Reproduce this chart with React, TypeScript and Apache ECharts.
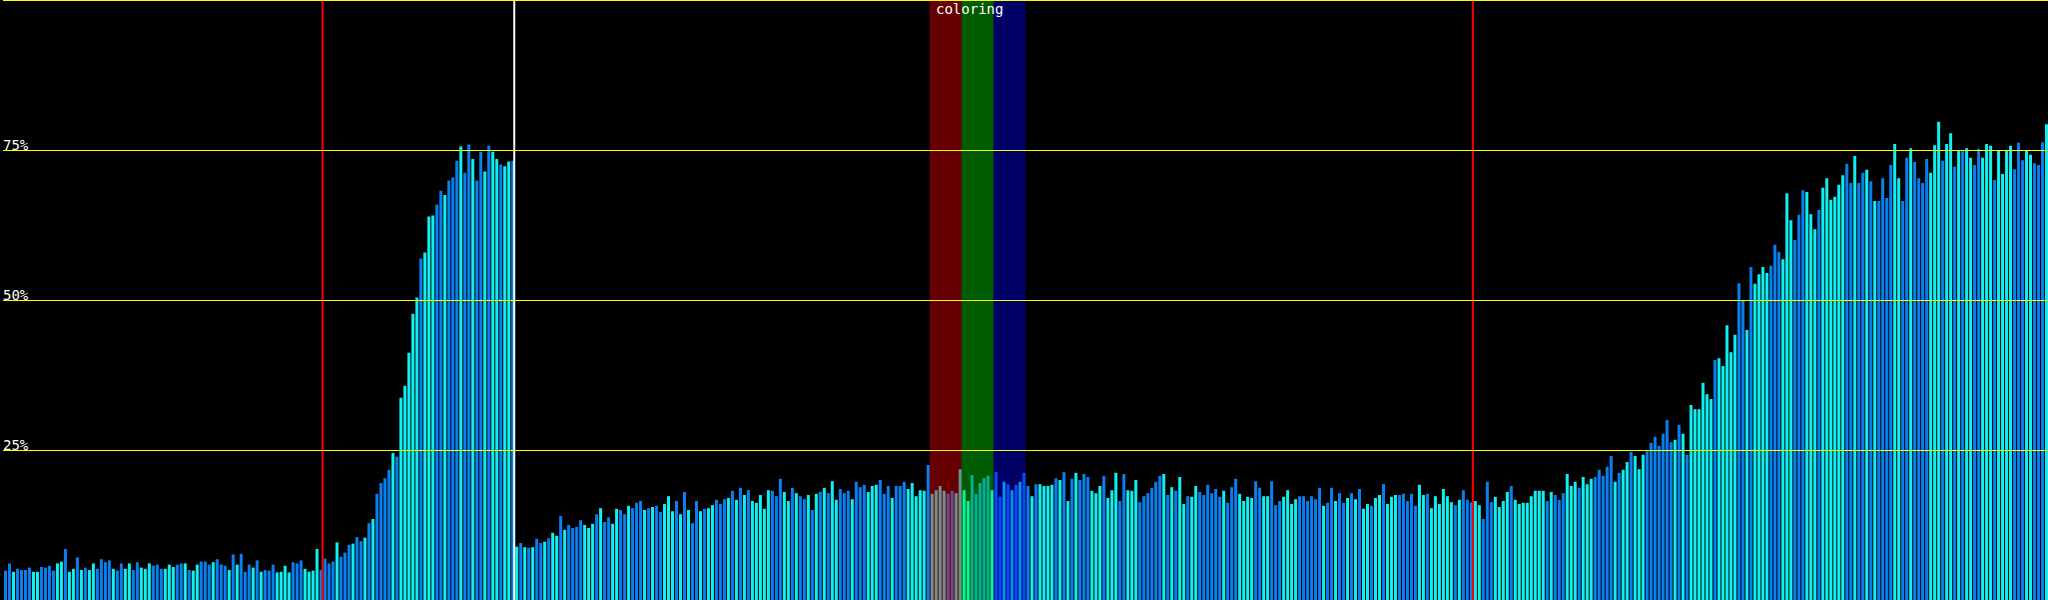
import React, { useEffect, useRef } from "react";
import * as echarts from "echarts";

// bar heights (percent), one per sample, in four runs of 128 samples
const valuesA = [
  4.9, 6.1, 4.7, 5.2, 5.0, 5.0, 5.4, 4.7, 4.7, 5.5,
  5.4, 5.7, 4.9, 6.1, 6.4, 8.5, 4.7, 5.2, 7.1, 5.0,
  5.4, 5.0, 6.1, 5.2, 6.8, 6.3, 6.6, 5.2, 4.9, 6.1,
  5.2, 6.1, 5.0, 6.3, 5.4, 5.2, 6.1, 5.7, 5.9, 5.2,
  5.2, 5.9, 5.5, 5.9, 6.1, 6.1, 5.0, 4.9, 5.9, 6.4,
  6.4, 5.9, 6.3, 6.8, 5.9, 5.7, 5.0, 7.6, 5.9, 7.7,
  4.7, 5.9, 5.4, 6.6, 4.7, 5.0, 4.9, 5.9, 4.6, 4.7,
  5.7, 4.6, 6.3, 6.1, 6.6, 5.2, 4.7, 4.9, 8.5, 5.0,
  6.9, 6.1, 6.4, 9.6, 7.2, 7.9, 9.2, 9.4, 10.5, 9.8,
  10.4, 12.8, 13.5, 17.7, 19.5, 20.3, 21.7, 24.5, 23.9, 33.7,
  35.7, 41.2, 47.7, 50.4, 56.9, 57.9, 63.9, 64.1, 65.9, 68.2,
  67.5, 69.9, 70.4, 73.2, 75.6, 71.2, 75.9, 73.5, 69.9, 74.7,
  71.4, 75.7, 74.7, 73.5, 72.6, 72.3, 73.1, 73.2,
];
const valuesB = [
  8.9, 9.5, 8.8, 8.7, 8.8, 10.2, 9.5, 9.7, 10.3, 11.2,
  10.7, 14.0, 11.7, 12.5, 12.0, 12.2, 13.3, 12.5, 12.0, 12.7,
  14.3, 15.3, 13.0, 13.8, 12.7, 15.2, 15.0, 14.3, 15.7, 15.3,
  16.2, 16.5, 15.0, 15.3, 15.5, 15.7, 14.7, 16.0, 17.3, 14.8,
  16.5, 14.3, 18.0, 15.0, 12.8, 16.5, 14.8, 15.2, 15.3, 15.8,
  16.7, 16.0, 16.8, 17.0, 18.2, 16.7, 18.7, 17.5, 18.3, 16.5,
  16.2, 17.5, 15.2, 18.3, 18.2, 17.3, 20.2, 18.0, 16.5, 18.7,
  17.8, 17.3, 16.8, 17.5, 15.0, 17.7, 18.0, 18.7, 17.8, 19.8,
  16.7, 18.5, 17.8, 18.2, 16.8, 19.7, 18.8, 19.2, 18.0, 19.0,
  19.2, 20.0, 17.7, 19.0, 17.0, 19.0, 19.0, 19.7, 18.5, 19.5,
  17.3, 18.3, 18.2, 22.5, 17.7, 18.3, 19.0, 18.2, 17.7, 18.2,
  17.8, 21.8, 18.3, 16.5, 20.8, 17.7, 19.5, 20.3, 20.7, 18.3,
  21.3, 17.2, 19.7, 19.3, 18.3, 19.2, 19.7, 21.2,
];
const valuesC = [
  19.0, 17.3, 19.3, 19.3, 19.0, 19.0, 19.2, 20.3, 20.0, 21.3,
  16.5, 20.2, 21.2, 20.0, 21.0, 20.5, 18.2, 17.8, 19.0, 20.7,
  17.0, 18.3, 21.2, 16.5, 21.0, 18.3, 18.2, 20.0, 16.3, 17.3,
  17.8, 18.7, 19.7, 20.7, 21.0, 17.5, 18.8, 18.2, 20.5, 16.0,
  17.3, 17.2, 19.0, 18.0, 17.5, 19.2, 17.8, 18.5, 17.2, 18.2,
  16.2, 18.8, 20.2, 17.7, 16.5, 17.2, 17.0, 19.8, 18.7, 17.3,
  17.3, 19.8, 15.8, 16.5, 17.2, 18.3, 16.0, 16.8, 17.3, 17.3,
  16.5, 17.3, 16.8, 18.7, 15.7, 16.2, 18.7, 16.5, 17.8, 16.2,
  17.0, 17.8, 16.8, 18.5, 15.2, 16.0, 15.7, 17.0, 17.5, 19.3,
  16.0, 17.2, 17.5, 17.5, 17.7, 16.5, 17.7, 15.7, 19.2, 17.5,
  17.7, 15.3, 17.3, 16.0, 18.5, 17.3, 16.3, 15.8, 16.7, 18.3,
  16.7, 16.3, 16.5, 15.8, 13.5, 19.7, 16.3, 17.2, 15.5, 16.5,
  18.0, 19.0, 16.7, 16.0, 16.2, 16.2, 17.3, 18.2,
];
const valuesD = [
  18.2, 18.2, 16.5, 18.0, 17.5, 16.7, 17.8, 21.0, 19.0, 19.7,
  18.7, 20.5, 19.3, 20.2, 20.5, 21.7, 20.7, 22.2, 24.0, 19.7,
  21.2, 21.7, 23.0, 24.7, 24.0, 21.8, 24.2, 24.8, 26.2, 27.2,
  25.7, 27.7, 30.0, 26.3, 26.7, 29.2, 27.7, 24.2, 32.5, 31.8,
  31.8, 36.2, 34.3, 33.5, 40.0, 40.3, 39.0, 45.8, 41.3, 44.2,
  52.8, 50.0, 45.0, 55.5, 52.7, 54.3, 55.5, 54.5, 55.7, 59.2,
  58.0, 56.8, 67.8, 63.3, 60.0, 64.2, 68.3, 68.0, 64.3, 61.8,
  65.0, 68.7, 70.3, 66.7, 67.2, 69.2, 70.8, 72.7, 69.5, 74.0,
  69.5, 71.2, 71.7, 69.8, 66.5, 66.5, 70.3, 67.0, 72.5, 76.0,
  70.3, 66.5, 73.7, 75.3, 73.0, 70.3, 69.5, 73.5, 71.2, 75.8,
  79.7, 73.2, 76.0, 77.8, 72.2, 75.0, 74.8, 75.3, 73.7, 72.5,
  75.2, 73.7, 76.0, 75.7, 70.0, 75.0, 71.0, 75.0, 75.7, 71.8,
  76.2, 73.3, 75.0, 74.2, 72.8, 72.5, 76.3, 79.3,
];

// sample kind per bar: B = blue, C = cyan
const kindsA =
  "BBCBBBBCCB" + "BBBCCBCCBC" + "BCCBBBBCBB" + "CCBBCCCBBB" + "CCCBBCBCCB" +
  "BBCBBBCBCB" + "BBCBCBBBCC" + "CCBBBCCCCB" + "BBBCBBBCBB" + "CBCBBBBCBC" +
  "CCCCBCCCBB" + "CBBBCBBCBB" + "CBCCBCCB";
const kindsB =
  "CBCBCBBCBC" + "CBCBBBBCCC" + "BCBBCCBBCB" + "BBCBCBBCCC" + "BCBCBBCBCC" +
  "BBBCBCBCBC" + "CCCCBBBCCB" + "CBBCBCBCBC" + "CBBBCBBBCC" + "CBBBCBBBCC" +
  "CCCBCCCCBB" + "CCCCBBBBBC" + "BBCBCBCB";
const kindsC =
  "BCBCCCCBCB" + "CBCBBBCCCB" + "CCCBBCCCBB" + "BBBBCBCBCC" + "BCCBBBBBBC" +
  "BBBCCCCBBC" + "CBBBCCCCBB" + "BBBBCBBCBB" + "CBCBCCBCCB" + "CCCBBBBBCC" +
  "BCCCCCCBCB" + "BBCCBBBCCC" + "CBCCCCCC";
const kindsD =
  "CCBCBBBCCC" + "BCCCBBBBBC" + "BCCBCCCBBB" + "BBBBCBCBCC" + "CCCCBCCCCC" +
  "BBCBCCCCBB" + "BCCCBBBCCC" + "BCCCCCCBBC" + "BBCBCBBBBC" + "CBBCBBBBCC" +
  "CBCCBCBCCB" + "BCCCBCCCCB" + "BBCCBBBC";

// axis ticks
const yTickValues = [25, 50, 75];
const yTickLabels = ["25%", "50%", "75%"];

// markers (sample index positions)
const redMarkers = [80, 368];
const whiteMarkers = [128];

// "coloring" bands (sample index ranges)
const bandNames = ["red", "green", "blue"];
const bandStarts = [232, 240, 248];
const bandEnds = [240, 248, 256];
const bandTitle = "coloring";

// styles
const KIND_COLORS: Record<string, string> = { B: "#0a80f0", C: "#10f0f0" };
const BAND_COLORS: Record<string, string> = {
  red: "rgba(255,0,0,0.4)",
  green: "rgba(0,255,0,0.36)",
  blue: "rgba(0,0,255,0.4)",
};
const FONT = "'DejaVu Sans Mono', monospace";

export default function App() {
  const ref = useRef<HTMLDivElement>(null);

  useEffect(() => {
    document.body.style.margin = "0";
    document.body.style.background = "#000";
    if (!ref.current) return;
    const chart = echarts.init(ref.current, null, { renderer: "svg" });

    const values = [...valuesA, ...valuesB, ...valuesC, ...valuesD];
    const kinds = (kindsA + kindsB + kindsC + kindsD).split("");
    const barData = values.map((v, i) => [i, v, kinds[i] === "B" ? 0 : 1]);
    const n = values.length;

    const bandData = bandNames.map((name, k) => [bandStarts[k], bandEnds[k], k]);
    const lineData = [
      ...redMarkers.map((x) => [x, 0]),
      ...whiteMarkers.map((x) => [x, 1]),
    ];

    chart.setOption({
      animation: false,
      backgroundColor: "#000",
      title: {
        text: bandTitle,
        left: 936,
        top: 2,
        padding: 0,
        textStyle: {
          color: "#fff",
          fontFamily: FONT,
          fontSize: 14,
          fontWeight: "normal",
          lineHeight: 14,
        },
        z: 20,
      },
      grid: { left: 0, right: 0, top: 0, bottom: 0 },
      xAxis: {
        type: "value",
        min: 0,
        max: n,
        show: false,
        splitLine: { show: false },
      },
      yAxis: {
        type: "value",
        min: 0,
        max: 100,
        interval: 25,
        axisLine: { show: false },
        axisTick: { show: false },
        splitLine: { show: true, lineStyle: { color: "#ffff00", width: 1 } },
        z: 10,
        axisLabel: {
          inside: true,
          margin: 0,
          color: "#fff",
          fontFamily: FONT,
          fontSize: 14,
          lineHeight: 11,
          verticalAlign: "bottom",
          showMinLabel: false,
          showMaxLabel: false,
          formatter: (v: number) => {
            const k = yTickValues.indexOf(v);
            return k >= 0 ? yTickLabels[k] : "";
          },
        },
      },
      series: [
        {
          type: "custom",
          name: "samples",
          z: 2,
          data: barData,
          encode: { x: 0, y: 1 },
          renderItem: (params: any, api: any) => {
            const i = api.value(0);
            const v = api.value(1);
            const kind = api.value(2);
            const top = api.coord([i, v]);
            const base = api.coord([i, 0]);
            const next = api.coord([i + 1, 0]);
            const slot = next[0] - base[0];
            return {
              type: "rect",
              shape: {
                x: base[0] + slot * 0.25,
                y: top[1],
                width: slot * 0.75,
                height: base[1] - top[1],
              },
              style: { fill: kind === 0 ? KIND_COLORS.B : KIND_COLORS.C },
            };
          },
        },
        {
          type: "custom",
          name: "bands",
          z: 4,
          silent: true,
          data: bandData,
          encode: { x: [0, 1] },
          renderItem: (params: any, api: any) => {
            const s = api.value(0);
            const e = api.value(1);
            const k = api.value(2);
            const p0 = api.coord([s, 100]);
            const p1 = api.coord([e, 0]);
            return {
              type: "rect",
              shape: { x: p0[0], y: p0[1], width: p1[0] - p0[0], height: p1[1] - p0[1] },
              style: { fill: BAND_COLORS[bandNames[k]] },
            };
          },
        },
        {
          type: "custom",
          name: "markers",
          z: 6,
          silent: true,
          data: lineData,
          encode: { x: 0 },
          renderItem: (params: any, api: any) => {
            const x = api.value(0);
            const kind = api.value(1);
            const p0 = api.coord([x, 100]);
            const p1 = api.coord([x, 0]);
            return {
              type: "line",
              shape: { x1: p0[0], y1: p0[1], x2: p1[0], y2: p1[1] },
              style: { stroke: kind === 0 ? "#ff0000" : "#ffffff", lineWidth: 2 },
            };
          },
        },
      ],
    });

    return () => {
      chart.dispose();
    };
  }, []);

  return <div ref={ref} style={{ width: 2048, height: 600 }} />;
}
